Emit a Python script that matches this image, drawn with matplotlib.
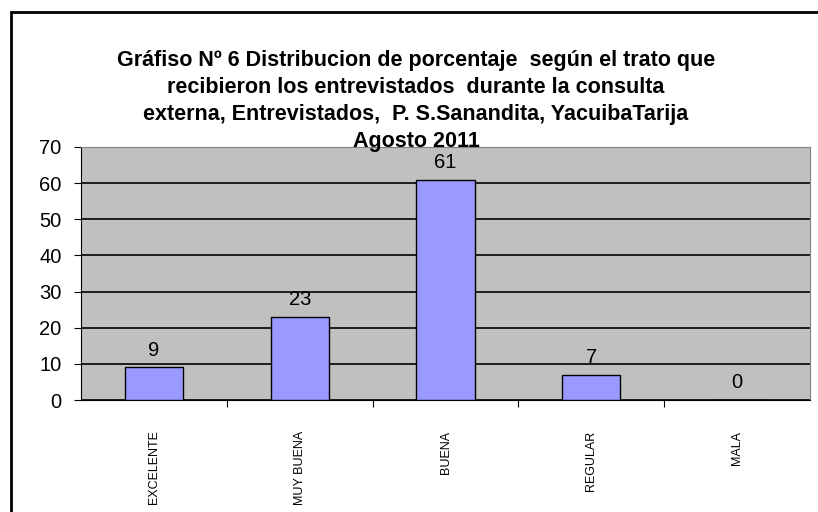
import matplotlib.pyplot as plt
from matplotlib.patches import Rectangle

categories = ["EXCELENTE", "MUY BUENA", "BUENA", "REGULAR", "MALA"]
values = [9, 23, 61, 7, 0]
yticks = [0, 10, 20, 30, 40, 50, 60, 70]
title = ("Gráfiso Nº 6 Distribucion de porcentaje  según el trato que\n"
         "recibieron los entrevistados  durante la consulta\n"
         "externa, Entrevistados,  P. S.Sanandita, YacuibaTarija\n"
         "Agosto 2011")

plt.rcParams["font.family"] = ["Liberation Sans", "DejaVu Sans"]

fig = plt.figure(figsize=(8.18, 5.12), dpi=100)
W, H = 818, 512

# outer chart border (runs off the right/bottom edges)
fig.patches.append(Rectangle((11 / W, -0.05), 1.0, (H - 12) / H + 0.05,
                             transform=fig.transFigure, fill=False,
                             edgecolor="black", linewidth=2))

ax = fig.add_axes([81 / W, (H - 400) / H, (810 - 81) / W, (400 - 147) / H])
ax.set_facecolor("#c0c0c0")
ax.set_zorder(1)

x = range(len(categories))
ax.bar(x, values, width=0.4, color="#9999ff", edgecolor="black",
       linewidth=1, zorder=3)
for i, v in enumerate(values):
    ax.text(i, v + 2.2, str(v), ha="center", va="bottom", fontsize=14.5, zorder=4)

ax.set_xlim(-0.5, len(categories) - 0.5)
ax.set_ylim(0, 70)
ax.set_yticks(yticks)
ax.set_yticklabels([str(t) for t in yticks], fontsize=14.5)
ax.yaxis.grid(True, color="black", linewidth=1.2)
ax.set_axisbelow(True)

ax.set_xticks([i + 0.5 for i in range(len(categories) - 1)], minor=False)
ax.set_xticklabels([])
ax.set_xticks(list(x), minor=True)
ax.set_xticklabels(categories, minor=True, rotation=90, fontsize=9)
ax.tick_params(axis="x", which="minor", length=0, pad=22)
ax.tick_params(axis="x", which="major", length=5, direction="out")
ax.tick_params(axis="y", length=5, direction="out", pad=9)

for s in ["top", "right"]:
    ax.spines[s].set_color("#808080")
for s in ["left", "bottom"]:
    ax.spines[s].set_color("black")

fig.text(416 / W, 1 - 101 / H, title, ha="center", va="center",
         fontsize=15.5, fontweight="bold", linespacing=1.38, zorder=5)

fig.savefig("out.png", dpi=100)
